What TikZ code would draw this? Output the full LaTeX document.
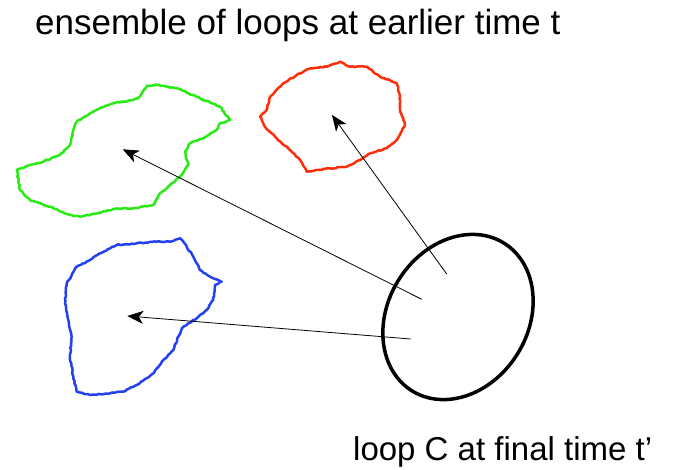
\documentclass[tikz,border=0pt]{standalone}
\usepackage{fontspec}
\setmainfont{Liberation Sans}
\usetikzlibrary{arrows.meta,decorations.pathmorphing}
\definecolor{loopgreen}{RGB}{40,235,20}
\definecolor{loopred}{RGB}{255,45,10}
\definecolor{loopblue}{RGB}{35,65,240}
\tikzset{
  wig/.style={line width=2.5pt, line join=round, line cap=round, decorate,
    decoration={random steps, segment length=2.2pt, amplitude=0.55pt}},
  arr/.style={line width=0.8pt, -{Stealth[length=16pt,width=13pt,inset=4.5pt]}},
  lbl/.style={inner sep=0pt, anchor=base west}
}
\begin{document}
\begin{tikzpicture}[x=1pt,y=-1pt]
\pgfmathsetseed{7}
\useasboundingbox (0,0) rectangle (674,470);
\node[lbl, font=\fontsize{35}{40}\selectfont] (top) at (35,35) {ensemble of loops at earlier time t};
\node[lbl, font=\fontsize{33}{38}\selectfont] (bot) at (353,460) {loop C at final time t'};
% green loop
\draw[wig, loopgreen] (146.7,86) -- (156.7,85) -- (176.7,88.3) -- (200,98.3) -- (220,106.7) -- (230,120) -- (220,123.3) --
(216.7,130) -- (203.3,138.3) -- (190,143.3) -- (185,151.7) -- (188.3,165) -- (181.7,175) -- (170,185) --
(160,193.3) -- (153.3,205) -- (133.3,208.3) -- (116.7,208.3) -- (100,212.7) -- (80,216.7) -- (66.7,214) --
(50,206.7) -- (30,200) -- (20,190) -- (16.7,170) -- (30,165) -- (43.3,161.7) -- (60,155) -- (70,145) --
(73.3,130) -- (76.7,121.7) -- (90,113.3) -- (100,108.3) -- (113.3,103.3) -- (133.3,100) -- (140,96.7) -- cycle;
% red loop
\draw[wig, loopred] (340,61.7) -- (350,66.7) -- (366.7,66.7) -- (380,76.7) -- (396.7,83.3) -- (400,96.7) -- (400,110) --
(405,125) -- (396.7,140) -- (386.7,148.3) -- (370,153.3) -- (360,160) -- (346.7,166.7) -- (330,168.3) --
(316.7,170) -- (306.7,171.7) -- (300,160) -- (290,150) -- (276.7,138.3) -- (265,126.7) -- (260,116.7) --
(266.7,110) -- (270,96.7) -- (283.3,83.3) -- (296.7,75) -- (310,68.3) -- (326.7,66.7) -- cycle;
% blue loop
\draw[wig, loopblue] (180,238.3) -- (186.7,246.7) -- (193.3,256.7) -- (200,270) -- (210,276.7) -- (221.7,281.7) -- (215,285) --
(213.3,300) -- (206.7,310) -- (196.7,318.3) -- (183.3,326.7) -- (178.3,336.7) -- (173.3,350) --
(163.3,360) -- (153.3,373.3) -- (136.7,385) -- (123.3,391.7) -- (110,393.3) -- (90,395) -- (76.7,391.7) --
(73.3,376.7) -- (70,356.7) -- (71.7,336.7) -- (68.3,320) -- (65,303.3) -- (66.7,283.3) -- (76.7,266.7) --
(90,260) -- (100,253.3) -- (116.7,245) -- (136.7,243.3) -- (156.7,241.7) -- (170,241.7) -- cycle;
% final loop C
\draw[line width=3.5pt, rotate around={-32:(458,317)}] (458,317) ellipse [x radius=70, y radius=87];
% arrows
\coordinate (sR) at (446.7,274);
\coordinate (sG) at (421.7,299.3);
\coordinate (sB) at (410.7,339);
\coordinate (eR) at (332,115);
\coordinate (eG) at (122.7,149.3);
\coordinate (eB) at (127.3,316);
\draw[arr] (sR) -- (eR);
\draw[arr] (sG) -- (eG);
\draw[arr] (sB) -- (eB);
\end{tikzpicture}
\end{document}
